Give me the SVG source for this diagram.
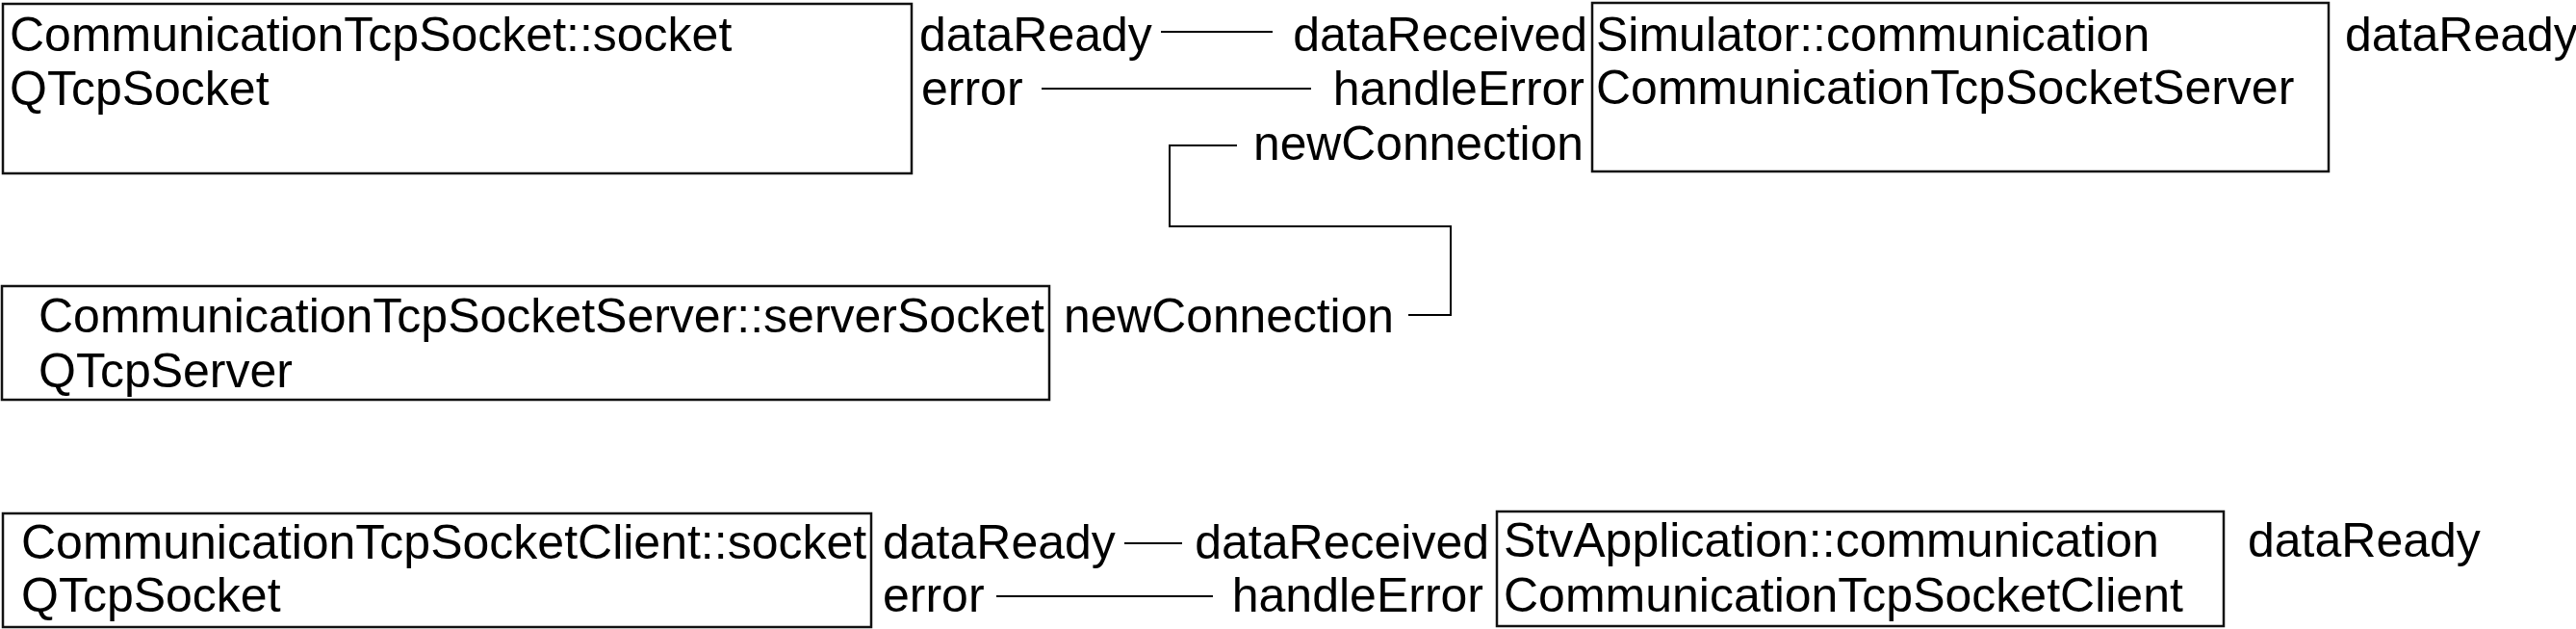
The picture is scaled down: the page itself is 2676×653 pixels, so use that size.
<svg xmlns="http://www.w3.org/2000/svg" width="2676" height="653" viewBox="0 0 2676 653">
<style>
  text { font-family: "Liberation Sans", Arial, sans-serif; font-size: 50px; fill: #000; }
  .box { fill: #fff; stroke: #111; stroke-width: 2.5; }
  .conn { fill: none; stroke: #000; stroke-width: 2; }
  .end { text-anchor: end; }
</style>
<rect width="2676" height="653" fill="#fff"/>
<g id="connectors">
  <line class="conn" x1="1206" y1="33" x2="1322" y2="33"/>
  <line class="conn" x1="1082" y1="92" x2="1362" y2="92"/>
  <polyline class="conn" points="1285,151 1215,151 1215,235 1507,235 1507,327 1463,327"/>
  <line class="conn" x1="1168" y1="564" x2="1228" y2="564"/>
  <line class="conn" x1="1035" y1="619" x2="1260" y2="619"/>
</g>
<g id="node-socket">
  <rect class="box" x="3" y="4" width="944" height="176"/>
  <text x="10" y="52.5">CommunicationTcpSocket::socket</text>
  <text x="10" y="108.5">QTcpSocket</text>
  <text x="955" y="52.5">dataReady</text>
  <text x="957" y="108.5">error</text>
</g>
<g id="node-simulator">
  <rect class="box" x="1654" y="3" width="765" height="175"/>
  <text x="1658" y="52.5">Simulator::communication</text>
  <text x="1658" y="108">CommunicationTcpSocketServer</text>
  <text class="end" x="1649" y="52.5">dataReceived</text>
  <text class="end" x="1646" y="108.5">handleError</text>
  <text x="1302" y="166" textLength="343" lengthAdjust="spacingAndGlyphs">newConnection</text>
  <text x="2436" y="52.5">dataReady</text>
</g>
<g id="node-serversocket">
  <rect class="box" x="2" y="297" width="1088" height="118"/>
  <text x="40" y="345">CommunicationTcpSocketServer::serverSocket</text>
  <text x="40" y="401.5">QTcpServer</text>
  <text x="1105" y="345" textLength="343" lengthAdjust="spacingAndGlyphs">newConnection</text>
</g>
<g id="node-clientsocket">
  <rect class="box" x="3" y="533" width="902" height="118"/>
  <text x="22" y="580">CommunicationTcpSocketClient::socket</text>
  <text x="22" y="635">QTcpSocket</text>
  <text x="917" y="580">dataReady</text>
  <text x="917" y="635">error</text>
</g>
<g id="node-stvapplication">
  <rect class="box" x="1555" y="531" width="755" height="119"/>
  <text x="1562" y="578">StvApplication::communication</text>
  <text x="1562" y="635">CommunicationTcpSocketClient</text>
  <text class="end" x="1547" y="580">dataReceived</text>
  <text class="end" x="1541" y="635">handleError</text>
  <text x="2335" y="578">dataReady</text>
</g>
</svg>
